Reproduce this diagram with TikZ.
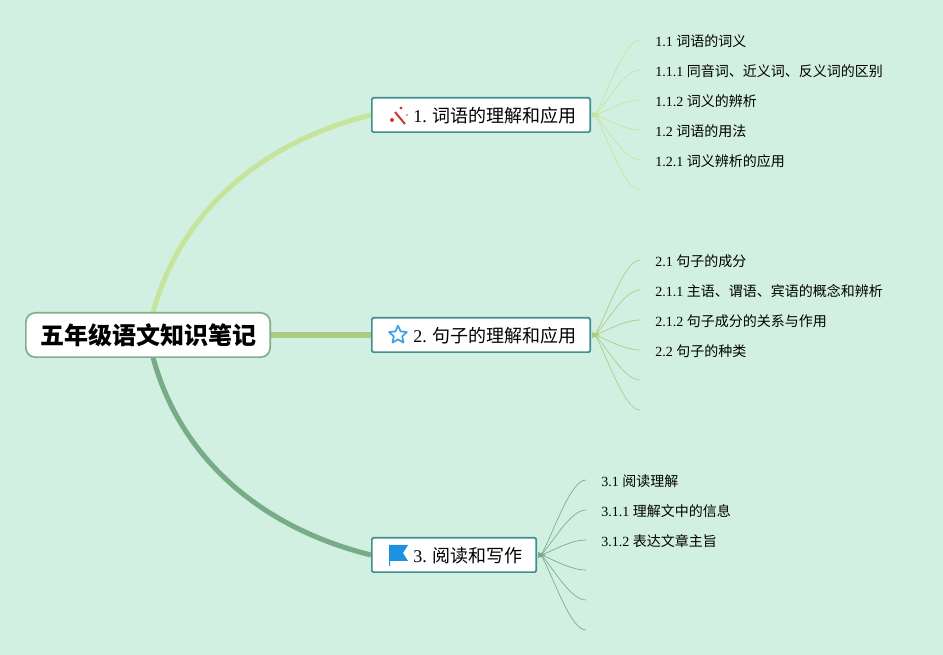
\documentclass[tikz,border=0pt]{standalone}
\usepackage{fontspec}
\setmainfont{Liberation Serif}
\newfontfamily\cjk{Noto Sans CJK SC}
\usetikzlibrary{backgrounds,calc,shapes.geometric}
\definecolor{bgcol}{HTML}{D2F0E1}
\definecolor{boxcol}{HTML}{3F8F8F}
\definecolor{rootcol}{HTML}{7FB08C}
\definecolor{greena}{HTML}{C6E49E}
\definecolor{greenb}{HTML}{ADCB82}
\definecolor{greenc}{HTML}{78AC88}
\definecolor{iconblue}{HTML}{1E92E2}
\definecolor{iconred}{HTML}{D2392B}
\tikzset{
    rootbox/.style = {draw = rootcol, fill = white, rounded corners = 7, line width = 1.3pt, minimum width = 183.2pt, minimum height = 33.2pt, text height = 17.2pt, text depth = 2.2pt, font = \bfseries\fontsize{18}{18}\selectfont},
    branchbox/.style = {draw = boxcol, fill = white, rounded corners = 1, line width = 1.3pt, minimum height = 25.7pt, anchor = west},
    branchtext/.style = {anchor = west, inner sep = 0pt, text height = 13pt, text depth = 1.7pt, font = \fontsize{13.5}{16}\selectfont},
    leaf/.style = {anchor = west, inner ysep = 0pt, inner xsep = 11.25pt, text height = 10.7pt, text depth = 1.3pt, font = \fontsize{10.5}{12}\selectfont},
    twig/.style = {line width = 0.5pt}
}
\begin{document}
\begin{tikzpicture}[x = 0.75pt, y = -0.75pt]
    \useasboundingbox (0,0) rectangle (943,655);
    \node[rootbox] (root) at (148,335) {\hspace{1.5pt}{\cjk 五年级语文知识笔记}};
    \node[branchbox, minimum width = 163.7pt] (b1) at (371,115) {};
    \node[branchbox, minimum width = 163.7pt] (b2) at (371,335) {};
    \node[branchbox, minimum width = 123.2pt] (b3) at (371,555) {};
    \node[branchtext] (t1) at (413,115) {1. {\cjk 词语的理解和应用}};
    \node[branchtext] (t2) at (413,335) {2. {\cjk 句子的理解和应用}};
    \node[branchtext] (t3) at (413,555) {3. {\cjk 阅读和写作}};
    \foreach \b in {1,2,3}
    {
    \coordinate (hub\b) at ($(b\b.east)+(4,0)$);
    }
    % first branch
    \foreach \k/\y/\s in {1/40/1.1 {\cjk 词语的词义},2/70/1.1.1 {\cjk 同音词、近义词、反义词的区别},3/100/1.1.2 {\cjk 词义的辨析},4/130/1.2 {\cjk 词语的用法},5/160/1.2.1 {\cjk 词义辨析的应用}}
    {
    \node[leaf] (a\k) at (640,\y) {\s};
    }
    \coordinate (a6) at (640,190);
    % second branch
    \foreach \k/\y/\s in {1/260/2.1 {\cjk 句子的成分},2/290/2.1.1 {\cjk 主语、谓语、宾语的概念和辨析},3/320/2.1.2 {\cjk 句子成分的关系与作用},4/350/2.2 {\cjk 句子的种类}}
    {
    \node[leaf] (c\k) at (640,\y) {\s};
    }
    \coordinate (c5) at (640,380);
    \coordinate (c6) at (640,410);
    % third branch
    \foreach \k/\y/\s in {1/480/3.1 {\cjk 阅读理解},2/510/3.1.1 {\cjk 理解文中的信息},3/540/3.1.2 {\cjk 表达文章主旨}}
    {
    \node[leaf] (e\k) at (586,\y) {\s};
    }
    \coordinate (e4) at (586,570);
    \coordinate (e5) at (586,600);
    \coordinate (e6) at (586,630);
    % icons
    \draw[iconred, line width = 1.5pt] (395,112) -- (405,124);
    \foreach \x/\y/\r in {392/120/2,401/108/1.6,407/115/0.9}
    {
    \fill[iconred] (\x,\y) circle (\r);
    }
    \node[star, star points = 5, star point ratio = 2.1, draw = iconblue!85!white, line width = 1.3pt, line join = round, fill = white, minimum size = 14pt, inner sep = 0pt] (icon2) at (398,335) {};
    \fill[iconblue] (389,545) -- (408,545) -- (403,553) -- (408,561) -- (390,561) -- (390,566) -- (389,566) -- cycle;
    \begin{scope}[on background layer]
    \fill[bgcol] (0,0) rectangle (943,655);
    \draw[greena, line width = 3.8pt] (root.center) .. controls (168,225) and (250,145) .. (b1.west);
    \draw[greenb, line width = 4.4pt] (root.center) -- (b2.west);
    \draw[greenc, line width = 3.8pt] (root.center) .. controls (168,445) and (250,525) .. (b3.west);
    \foreach \n/\c/\h in {a/greena/1,c/greenb/2,e/greenc/3}
    {
    \fill[\c] ($(hub\h)+(-3,-3)$) -- ($(hub\h)+(5,0)$) -- ($(hub\h)+(-3,3)$) -- cycle;
    \foreach \k in {1,...,6}
    {
    \draw[\c, twig] (hub\h) .. controls ($(hub\h)!.25!(\n\k.west)$) and ($(\n\k.west)+(-16,0)$) .. (\n\k.west);
    }
    }
    \end{scope}
\end{tikzpicture}
\end{document}
